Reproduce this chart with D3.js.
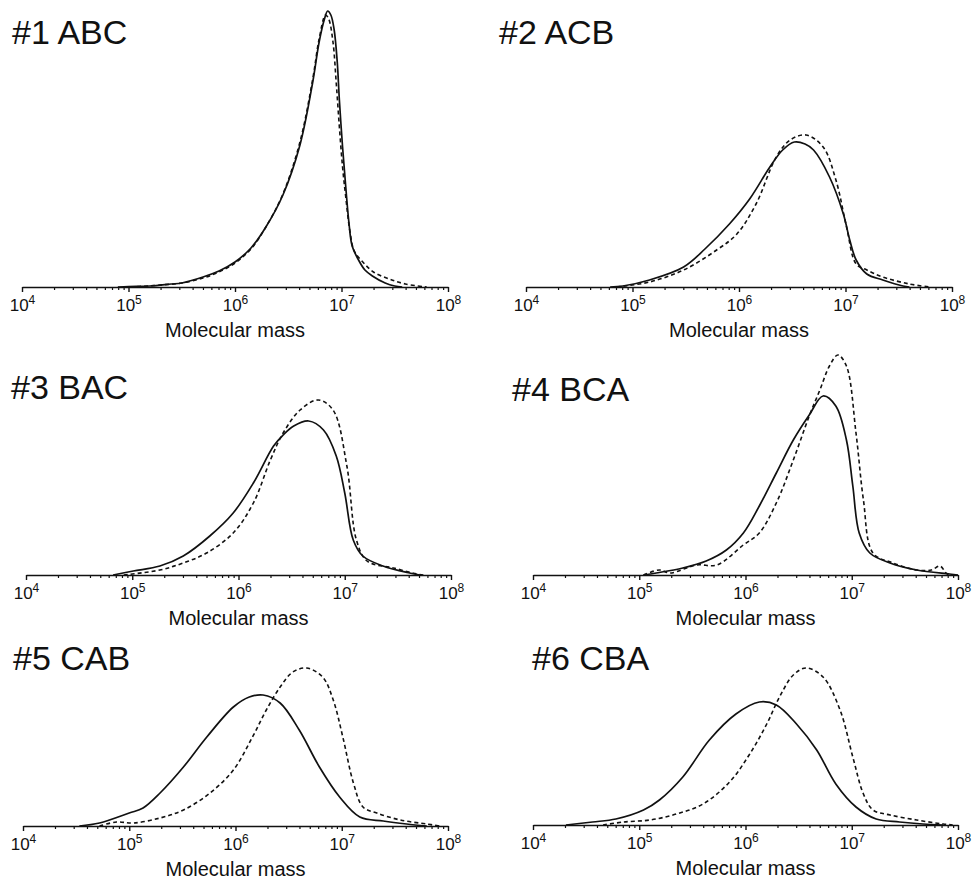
<!DOCTYPE html>
<html>
<head>
<meta charset="utf-8">
<script src="https://cdn.jsdelivr.net/npm/d3@7"></script>
<style>
  body { margin: 0; background: #fff; }
  svg { display: block; font-family: "Liberation Sans", Arial, sans-serif; }
</style>
</head>
<body>
<svg id="chart" width="973" height="881"></svg>
<script>
// panel names, in reading order
const panelTitles = ["#1 ABC", "#2 ACB", "#3 BAC", "#4 BCA", "#5 CAB", "#6 CBA"];

// decade exponents used for the log axis
const decades = [4, 5, 6, 7, 8];

// traces: [log10(molecular mass), signal (arb. units)]
const abcSolid = [[4.9,0],[5.0,0.5],[5.2,1],[5.4,3],[5.5,4],[5.7,10],[5.85,16],[6.0,25],[6.15,39],[6.29,60],[6.45,92],[6.61,142],[6.73,205],[6.79,245],[6.84,268],[6.87,276],[6.9,272],[6.93,258],[6.96,225],[6.98,187],[7.01,140],[7.04,100],[7.07,64],[7.10,41],[7.16,27],[7.22,17],[7.29,11],[7.41,4],[7.5,1],[7.57,0]];
const abcDash  = [[4.95,0],[5.1,0.5],[5.3,2],[5.5,4],[5.7,9],[5.85,15],[6.0,24],[6.15,38],[6.29,60],[6.45,93],[6.61,145],[6.73,208],[6.79,248],[6.85,272],[6.88,268],[6.92,245],[6.95,205],[6.98,160],[7.01,120],[7.04,90],[7.08,55],[7.12,36],[7.2,25],[7.3,15],[7.45,8],[7.6,3],[7.8,0]];

const acbSolid = [[4.79,0],[4.91,1],[5.16,7],[5.48,20],[5.68,38],[5.91,63],[6.10,88],[6.29,120],[6.41,137],[6.52,145],[6.62,143],[6.70,137],[6.85,110],[6.98,73],[7.04,47],[7.10,27],[7.20,13],[7.35,7],[7.54,1],[7.6,0]];
const acbDash  = [[4.85,0],[5.16,5],[5.48,17],[5.79,37],[5.98,53],[6.16,83],[6.35,130],[6.48,147],[6.63,152],[6.79,140],[6.91,107],[7.01,60],[7.10,23],[7.20,17],[7.35,10],[7.6,3],[7.79,0]];

const bacSolid = [[4.82,0],[5.01,4],[5.26,9],[5.48,19],[5.73,39],[5.95,62],[6.14,92],[6.33,129],[6.42,140],[6.52,149],[6.66,154],[6.80,145],[6.92,119],[7.00,82],[7.08,35],[7.17,19],[7.36,9],[7.61,2],[7.71,0]];
const bacDash  = [[4.92,0],[5.26,5],[5.48,12],[5.70,22],[5.95,42],[6.14,72],[6.30,115],[6.42,142],[6.58,165],[6.75,175],[6.89,165],[7.02,109],[7.11,35],[7.21,14],[7.46,7],[7.68,1],[7.74,0]];

const bcaSolid = [[5.04,0],[5.16,2],[5.41,7],[5.63,14],[5.82,25],[5.98,42],[6.13,69],[6.29,102],[6.45,135],[6.60,160],[6.73,179],[6.85,169],[6.95,135],[7.01,89],[7.07,42],[7.17,22],[7.36,12],[7.61,5],[7.92,1],[8.0,0]];
const bcaDash  = [[5.04,0],[5.19,5],[5.29,2],[5.54,10],[5.73,10],[5.98,30],[6.13,42],[6.29,72],[6.45,115],[6.60,159],[6.70,185],[6.79,209],[6.87,220],[6.95,209],[7.04,142],[7.11,75],[7.20,22],[7.39,12],[7.61,5],[7.75,5],[7.83,9],[7.9,1],[8.0,0]];

const cabSolid = [[4.53,0],[4.72,3],[5.00,13],[5.13,18],[5.29,33],[5.51,59],[5.73,89],[5.98,119],[6.13,129],[6.26,131],[6.42,123],[6.60,96],[6.79,59],[6.98,29],[7.17,9],[7.39,5],[7.61,2],[7.80,0]];
const cabDash  = [[4.72,0],[4.88,4],[5.04,3],[5.29,8],[5.51,16],[5.76,33],[5.98,56],[6.16,89],[6.29,116],[6.42,139],[6.54,154],[6.67,158],[6.82,149],[6.92,126],[7.01,89],[7.11,43],[7.20,19],[7.33,13],[7.55,6],[7.80,2],[7.92,0]];

const cbaSolid = [[4.31,0],[4.56,3],[4.78,6],[5.04,15],[5.19,25],[5.41,48],[5.66,85],[5.91,111],[6.13,123],[6.29,120],[6.48,101],[6.67,75],[6.85,41],[7.04,18],[7.23,6],[7.45,3],[7.67,1],[7.86,0]];
const cbaDash  = [[4.66,0],[4.85,3],[5.10,5],[5.35,11],[5.60,21],[5.85,43],[6.04,71],[6.20,101],[6.32,128],[6.45,150],[6.57,157],[6.73,148],[6.89,115],[7.01,68],[7.11,31],[7.20,15],[7.36,10],[7.61,5],[7.86,1],[7.95,0]];

const solidSeries = [abcSolid, acbSolid, bacSolid, bcaSolid, cabSolid, cbaSolid];
const dashSeries  = [abcDash, acbDash, bacDash, bcaDash, cabDash, cbaDash];

// where each panel sits on the page
const layout = [
  {x0: 22,  x1: 448, axisY: 287, tx: 12,  ty: 44},
  {x0: 526, x1: 952, axisY: 287, tx: 499, ty: 44},
  {x0: 26,  x1: 451, axisY: 575, tx: 11,  ty: 399},
  {x0: 533, x1: 958, axisY: 575, tx: 512, ty: 401},
  {x0: 23,  x1: 448, axisY: 826, tx: 13,  ty: 670},
  {x0: 533, x1: 958, axisY: 825, tx: 532, ty: 670}
];

const svg = d3.select("#chart");
const ink = "#111";

const minorTicks = [];
decades.slice(0, -1).forEach(e => {
  for (let k = 2; k <= 9; k++) minorTicks.push(k * Math.pow(10, e));
});

layout.forEach((p, i) => {
  const x = d3.scaleLog().domain([1e4, 1e8]).range([p.x0, p.x1]);
  const y = d3.scaleLinear().domain([0, 280]).range([p.axisY, p.axisY - 280]);
  const g = svg.append("g").attr("class", "panel");

  // minor ticks
  g.append("g")
    .attr("transform", `translate(0,${p.axisY})`)
    .call(d3.axisBottom(x).tickValues(minorTicks).tickSize(3).tickSizeOuter(0).tickFormat(""))
    .call(a => a.select(".domain").remove())
    .call(a => a.selectAll("line").attr("stroke", ink).attr("stroke-width", 1.2));

  // major ticks + labels
  const major = g.append("g")
    .attr("transform", `translate(0,${p.axisY})`)
    .call(d3.axisBottom(x).tickValues(decades.map(e => Math.pow(10, e))).tickSize(5).tickSizeOuter(0).tickFormat(""));
  major.select(".domain").attr("stroke", ink).attr("stroke-width", 1.6);
  major.selectAll("line").attr("stroke", ink).attr("stroke-width", 1.4);
  major.selectAll(".tick text").each(function(d) {
    const t = d3.select(this)
      .attr("y", 24).attr("dy", null)
      .attr("fill", ink)
      .style("font-size", "17px")
      .attr("text-anchor", "middle");
    t.append("tspan").text("10");
    t.append("tspan").attr("dy", "-7").style("font-size", "12px").text(Math.round(Math.log10(d)));
  });

  // x axis title
  g.append("text")
    .attr("x", (p.x0 + p.x1) / 2)
    .attr("y", p.axisY + 50)
    .attr("text-anchor", "middle")
    .attr("fill", ink)
    .style("font-size", "20px")
    .text("Molecular mass");

  // panel title
  g.append("text")
    .attr("x", p.tx).attr("y", p.ty)
    .attr("fill", ink)
    .style("font-size", "34px")
    .text(panelTitles[i]);

  const line = d3.line()
    .x(d => x(Math.pow(10, d[0])))
    .y(d => Math.min(p.axisY, y(d[1])))
    .curve(d3.curveCatmullRom.alpha(0.5));

  g.append("path")
    .datum(dashSeries[i])
    .attr("d", line)
    .attr("fill", "none")
    .attr("stroke", ink)
    .attr("stroke-width", 1.6)
    .attr("stroke-dasharray", "4,3");

  g.append("path")
    .datum(solidSeries[i])
    .attr("d", line)
    .attr("fill", "none")
    .attr("stroke", ink)
    .attr("stroke-width", 1.7);
});
</script>
</body>
</html>
